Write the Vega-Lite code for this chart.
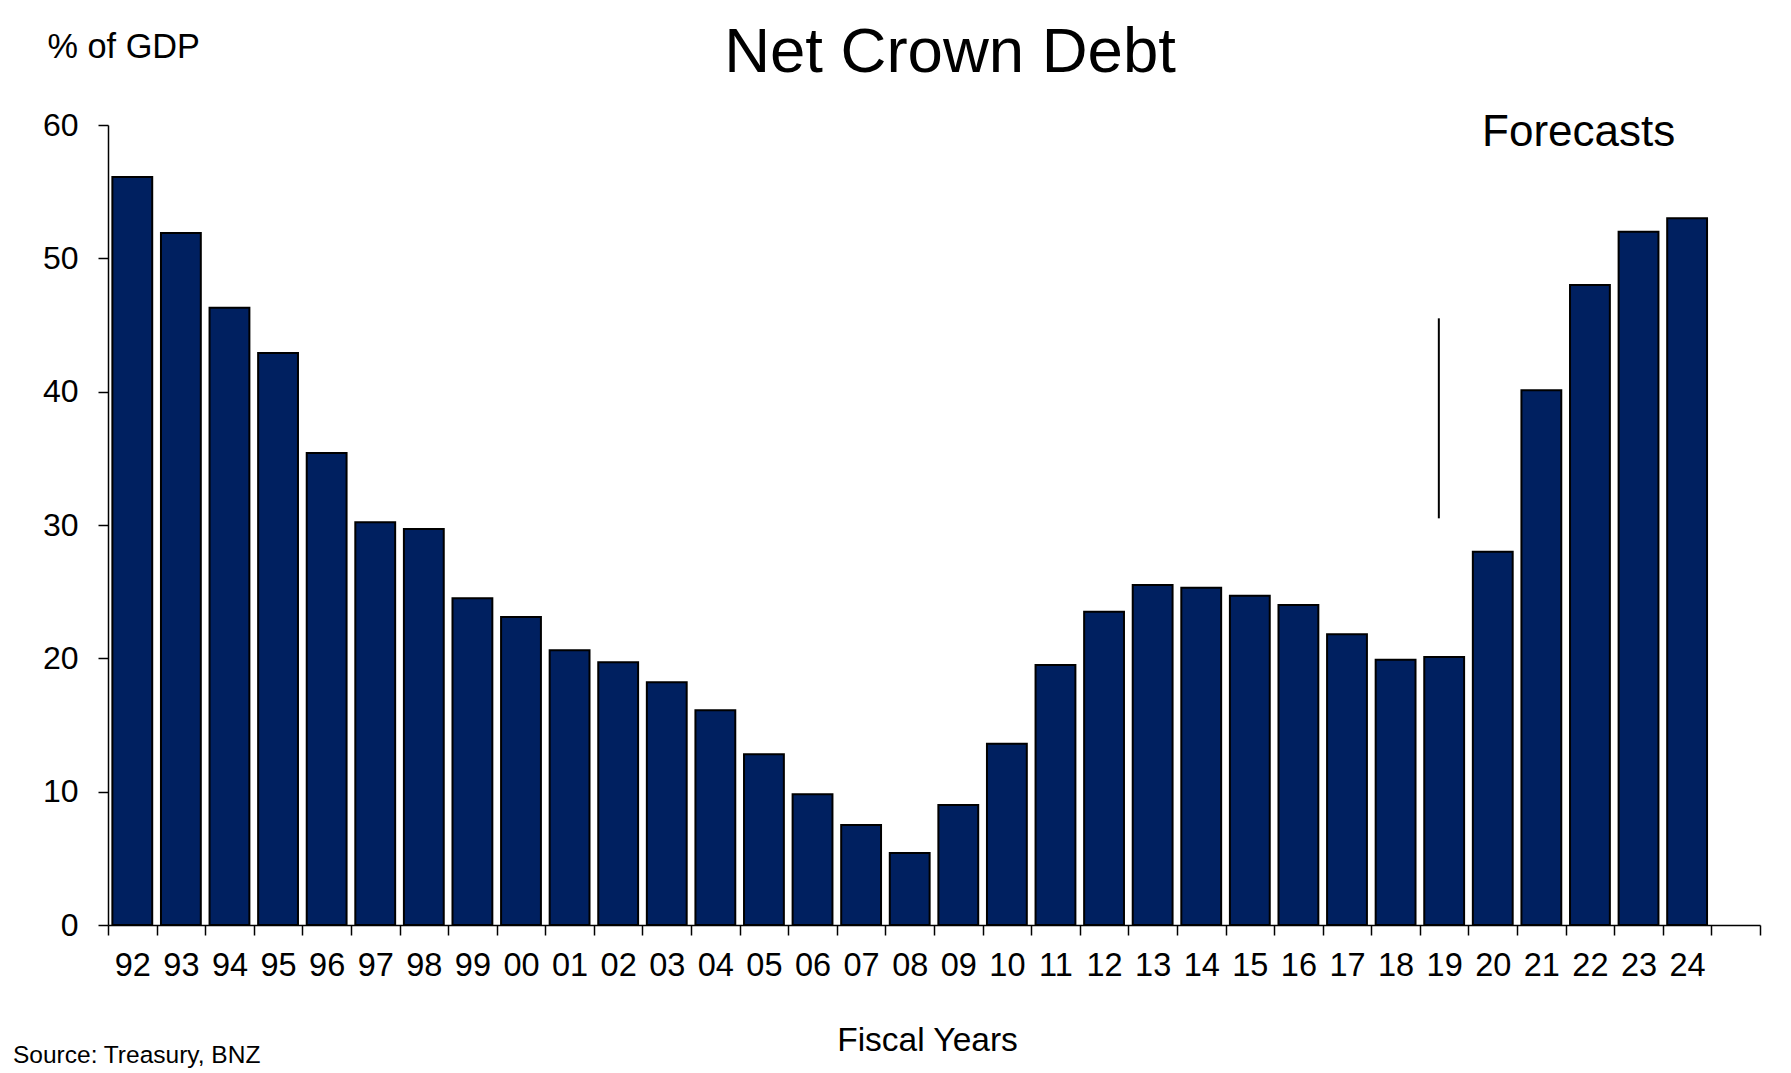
{
  "$schema": "https://vega.github.io/schema/vega-lite/v6.json",
  "width": 1652,
  "height": 800,
  "autosize": {"type": "none"},
  "padding": {"left": 108, "top": 125, "right": 31, "bottom": 148},
  "background": "white",
  "title": {"text": "Net Crown Debt", "fontSize": 63.5, "fontWeight": "normal", "font": "Liberation Sans", "color": "black", "frame": "group", "anchor": "middle", "baseline": "alphabetic", "dx": 16, "dy": 109},
  "data": {"values": [
    {"year": "92", "debt": 56.1},
    {"year": "93", "debt": 51.9},
    {"year": "94", "debt": 46.3},
    {"year": "95", "debt": 42.9},
    {"year": "96", "debt": 35.4},
    {"year": "97", "debt": 30.2},
    {"year": "98", "debt": 29.7},
    {"year": "99", "debt": 24.5},
    {"year": "00", "debt": 23.1},
    {"year": "01", "debt": 20.6},
    {"year": "02", "debt": 19.7},
    {"year": "03", "debt": 18.2},
    {"year": "04", "debt": 16.1},
    {"year": "05", "debt": 12.8},
    {"year": "06", "debt": 9.8},
    {"year": "07", "debt": 7.5},
    {"year": "08", "debt": 5.4},
    {"year": "09", "debt": 9.0},
    {"year": "10", "debt": 13.6},
    {"year": "11", "debt": 19.5},
    {"year": "12", "debt": 23.5},
    {"year": "13", "debt": 25.5},
    {"year": "14", "debt": 25.3},
    {"year": "15", "debt": 24.7},
    {"year": "16", "debt": 24.0},
    {"year": "17", "debt": 21.8},
    {"year": "18", "debt": 19.9},
    {"year": "19", "debt": 20.1},
    {"year": "20", "debt": 28.0},
    {"year": "21", "debt": 40.1},
    {"year": "22", "debt": 48.0},
    {"year": "23", "debt": 52.0},
    {"year": "24", "debt": 53.0}
  ]},
  "layer": [
    {
      "mark": {"type": "bar", "fill": "#002060", "stroke": "black", "strokeWidth": 2, "width": {"band": 0.82}},
      "encoding": {
        "x": {
          "field": "year", "type": "ordinal", "sort": null,
          "scale": {"domain": ["92","93","94","95","96","97","98","99","00","01","02","03","04","05","06","07","08","09","10","11","12","13","14","15","16","17","18","19","20","21","22","23","24"," "], "paddingInner": 0, "paddingOuter": 0},
          "axis": {"title": "Fiscal Years", "titleFontSize": 33.5, "titleFontWeight": "normal", "titleColor": "black", "titleFont": "Liberation Sans", "titleX": 819, "titleY": 125, "titleAlign": "center", "titleBaseline": "alphabetic", "tickBand": "extent", "tickSize": 10, "tickColor": "black", "tickWidth": 1.5, "domainColor": "black", "domainWidth": 1.5, "labelFontSize": 32.5, "labelFont": "Liberation Sans", "labelColor": "black", "labelPadding": 14, "labelAngle": 0, "labelOverlap": false, "grid": false}
        },
        "y": {
          "field": "debt", "type": "quantitative",
          "scale": {"domain": [0, 60]},
          "axis": {"title": "% of GDP", "titleAngle": 0, "titleX": -61, "titleY": -68, "titleAlign": "left", "titleBaseline": "alphabetic", "titleFontSize": 34.3, "titleFontWeight": "normal", "titleColor": "black", "titleFont": "Liberation Sans", "values": [0, 10, 20, 30, 40, 50, 60], "tickSize": 10, "tickColor": "black", "tickWidth": 1.5, "domainColor": "black", "domainWidth": 1.5, "labelFontSize": 32, "labelFont": "Liberation Sans", "labelColor": "black", "labelPadding": 20, "grid": false}
        }
      }
    },
    {
      "data": {"values": [{}]},
      "mark": {"type": "rule", "color": "black", "strokeWidth": 2},
      "encoding": {
        "x": {"datum": "19", "type": "ordinal", "bandPosition": 0.39},
        "y": {"datum": 45.5, "type": "quantitative"},
        "y2": {"datum": 30.5}
      }
    },
    {
      "data": {"values": [{}]},
      "mark": {"type": "text", "text": "Forecasts", "fontSize": 44, "font": "Liberation Sans", "color": "black", "align": "left", "baseline": "alphabetic"},
      "encoding": {
        "x": {"datum": "20", "type": "ordinal", "bandPosition": 0.28},
        "y": {"datum": 58.43, "type": "quantitative"}
      }
    },
    {
      "data": {"values": [{}]},
      "mark": {"type": "text", "text": "Source: Treasury, BNZ", "fontSize": 24.5, "font": "Liberation Sans", "color": "black", "align": "left", "baseline": "alphabetic", "dx": -95},
      "encoding": {
        "x": {"datum": "92", "type": "ordinal", "bandPosition": 0},
        "y": {"datum": -10.37, "type": "quantitative"}
      }
    }
  ],
  "config": {"font": "Liberation Sans", "view": {"stroke": null}}
}
